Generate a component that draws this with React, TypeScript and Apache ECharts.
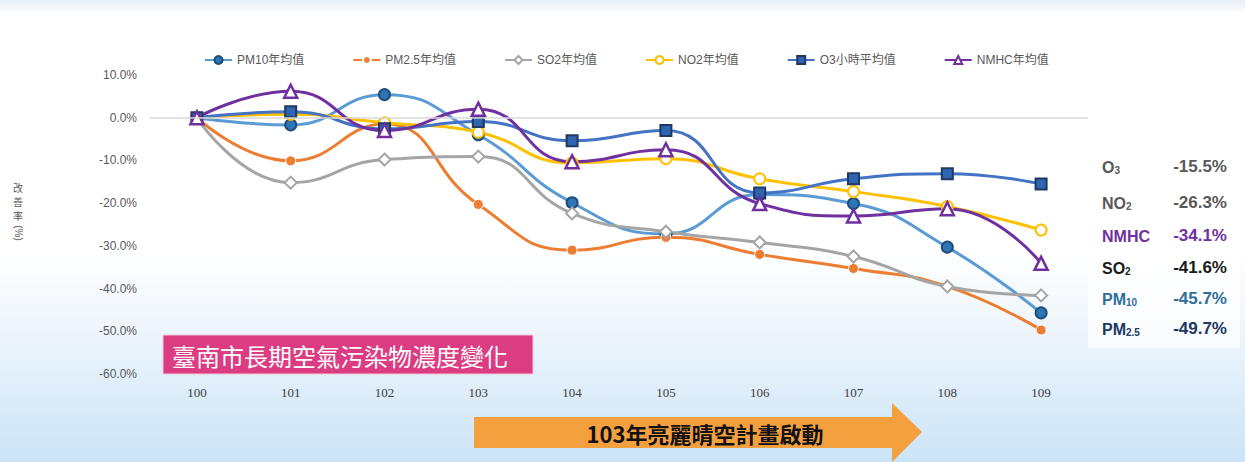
import React, { useEffect, useRef } from "react";
import * as echarts from "echarts";

const years = ["100", "101", "102", "103", "104", "105", "106", "107", "108", "109"];
const pm10 = [0, -1.7, 5.4, -4.0, -19.9, -27.2, -18.0, -20.1, -30.3, -45.7];
const pm25 = [0, -10.1, -1.5, -20.3, -31.0, -28.0, -32.0, -35.3, -39.5, -49.7];
const so2 = [0, -15.2, -9.8, -9.1, -22.4, -26.7, -29.2, -32.5, -39.5, -41.6];
const no2 = [0, 0.8, -1.2, -3.4, -10.6, -9.6, -14.3, -17.3, -20.8, -26.3];
const o3 = [0, 1.4, -2.6, -0.9, -5.4, -3.0, -17.6, -14.3, -13.1, -15.5];
const nmhc = [0, 6.2, -3.0, 2.0, -10.3, -7.5, -20.1, -23.0, -21.3, -34.1];

const seriesNames = ["PM10年均值", "PM2.5年均值", "SO2年均值", "NO2年均值", "O3小時平均值", "NMHC年均值"];

const summaryNames = [
  { main: "O", sub: "3", color: "#595959" },
  { main: "NO", sub: "2", color: "#595959" },
  { main: "NMHC", sub: "", color: "#7030a0" },
  { main: "SO", sub: "2", color: "#1a1a1a" },
  { main: "PM", sub: "10", color: "#2f6f9a" },
  { main: "PM", sub: "2.5", color: "#203864" },
];
const summaryValues = ["-15.5%", "-26.3%", "-34.1%", "-41.6%", "-45.7%", "-49.7%"];

const titleText = "臺南市長期空氣污染物濃度變化";
const arrowText = "103年亮麗晴空計畫啟動";
const yName = ["改", "善", "率"];

const SANS = "'Liberation Sans', 'Noto Sans CJK TC', sans-serif";

export default function App() {
  const ref = useRef<HTMLDivElement>(null);

  useEffect(() => {
    if (!ref.current) return;
    const chart = echarts.init(ref.current, undefined, { renderer: "svg" });

    const mk = (
      name: string,
      data: number[],
      lineColor: string,
      symbol: string,
      size: number,
      fill: string,
      border: string,
      borderWidth: number,
      extra: any = {}
    ) => ({
      name,
      type: "line",
      data,
      smooth: 0.5,
      symbol,
      symbolSize: size,
      showAllSymbol: true,
      lineStyle: { color: lineColor, width: 3 },
      itemStyle: { color: fill, borderColor: border, borderWidth },
      emphasis: { disabled: true },
      ...extra,
    });

    const rightGraphics: any[] = [
      {
        type: "rect",
        shape: { x: 1088, y: 148, width: 152, height: 200 },
        style: { fill: "rgba(255,255,255,0.7)" },
        silent: true,
      },
    ];
    const rowY = [166, 202, 235, 267, 298, 328];
    summaryNames.forEach((s, i) => {
      rightGraphics.push({
        type: "text",
        x: 1102,
        y: rowY[i],
        style: {
          text: s.sub ? `{n|${s.main}}{s|${s.sub}}` : `{n|${s.main}}`,
          fill: s.color,
          verticalAlign: "middle",
          rich: {
            n: { fontSize: 16, fontWeight: "bold", fontFamily: SANS, fill: s.color, lineHeight: 18, verticalAlign: "bottom" },
            s: { fontSize: 10, fontWeight: "bold", fontFamily: SANS, fill: s.color, lineHeight: 12, verticalAlign: "bottom" },
          },
        },
        silent: true,
      });
      rightGraphics.push({
        type: "text",
        x: 1227,
        y: rowY[i],
        style: {
          text: summaryValues[i],
          fill: s.color,
          font: `bold 17px ${SANS}`,
          align: "right",
          verticalAlign: "middle",
        },
        silent: true,
      });
    });

    const option: any = {
      animation: false,
      backgroundColor: "transparent",
      grid: { left: 150, right: 157, top: 75, bottom: 88, containLabel: false },
      legend: {
        left: 199,
        top: 49,
        itemWidth: 27,
        itemHeight: 10,
        itemGap: 48,
        textStyle: { color: "#595959", fontSize: 12, fontFamily: SANS },
        data: seriesNames,
        selectedMode: false,
      },
      xAxis: {
        type: "category",
        data: years,
        boundaryGap: true,
        axisLine: { show: false },
        axisTick: { show: false },
        axisLabel: {
          color: "#404040",
          fontSize: 13,
          fontFamily: "'Liberation Serif', serif",
          margin: 12,
        },
        splitLine: { show: false },
      },
      yAxis: {
        type: "value",
        min: -60,
        max: 10,
        interval: 10,
        axisLine: { show: false },
        axisTick: { show: false },
        splitLine: { show: false },
        axisLabel: {
          color: "#595959",
          fontSize: 12,
          fontFamily: SANS,
          margin: 13,
          formatter: (v: number) => v.toFixed(1) + "%",
        },
      },
      series: [
        mk(seriesNames[0], pm10, "#5b9bd5", "circle", 11, "#2e75b6", "#1f4e79", 2, {
          markLine: {
            silent: true,
            symbol: "none",
            label: { show: false },
            lineStyle: { color: "#d9d9d9", width: 1.5, type: "solid" },
            data: [{ yAxis: 0 }],
          },
        }),
        mk(seriesNames[1], pm25, "#ed7d31", "circle", 10, "#ed7d31", "#ffffff", 1),
        mk(seriesNames[2], so2, "#a5a5a5", "diamond", 12, "#ffffff", "#a5a5a5", 2),
        mk(seriesNames[3], no2, "#ffc000", "circle", 11, "#ffffff", "#ffc000", 2),
        mk(seriesNames[4], o3, "#4472c4", "rect", 11, "#2f64b0", "#1f3864", 2),
        mk(seriesNames[5], nmhc, "#7030a0", "triangle", 13, "#ffffff", "#7030a0", 2.5),
      ],
      graphic: [
        ...yName.map((c, i) => ({
          type: "text",
          x: 18,
          y: 188 + i * 14,
          style: { text: c, fill: "#595959", font: `10px ${SANS}`, align: "center", verticalAlign: "middle" },
          silent: true,
        })),
        {
          type: "text",
          x: 18,
          y: 233,
          rotation: -Math.PI / 2,
          style: { text: "(%)", fill: "#595959", font: `10px ${SANS}`, align: "center", verticalAlign: "middle" },
          silent: true,
        },
        {
          type: "rect",
          shape: { x: 163, y: 335, width: 370, height: 39 },
          style: { fill: "#dc3d82", stroke: "#f3c6da", lineWidth: 1 },
          silent: true,
        },
        {
          type: "text",
          x: 172,
          y: 355,
          style: {
            text: titleText,
            fill: "#ffffff",
            font: `24px 'Noto Sans CJK TC', sans-serif`,
            verticalAlign: "middle",
          },
          silent: true,
        },
        {
          type: "polygon",
          shape: {
            points: [
              [474, 417],
              [892, 417],
              [892, 403],
              [922, 432],
              [892, 462],
              [892, 448],
              [474, 448],
            ],
          },
          style: { fill: "#f4a03f" },
          silent: true,
        },
        {
          type: "text",
          x: 705,
          y: 433,
          style: {
            text: arrowText,
            fill: "#111111",
            font: `bold 22px 'Noto Sans CJK TC', serif`,
            align: "center",
            verticalAlign: "middle",
          },
          silent: true,
        },
        ...rightGraphics,
      ],
    };

    chart.setOption(option);
    return () => chart.dispose();
  }, []);

  return (
    <div
      style={{
        position: "fixed",
        left: 0,
        top: 0,
        width: 1245,
        height: 462,
        background:
          "linear-gradient(180deg, #e6eef6 0px, #ffffff 14px, #ffffff 250px, #eef5fb 330px, #cbe4f7 462px)",
      }}
    >
      <div ref={ref} style={{ width: 1245, height: 462 }} />
    </div>
  );
}
